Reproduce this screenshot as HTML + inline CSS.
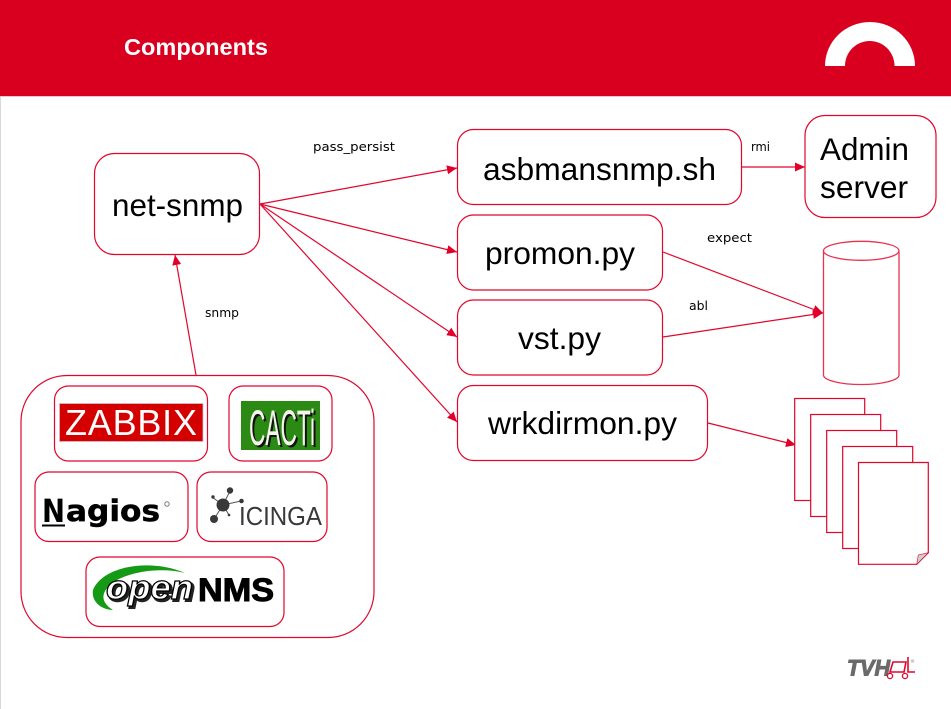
<!DOCTYPE html>
<html>
<head>
<meta charset="utf-8">
<style>
html,body{margin:0;padding:0;background:#fff;}
svg{display:block;}
text{font-family:"Liberation Sans",sans-serif;}
.lb{font-size:31.5px;fill:#000;}
.sm{font-family:"DejaVu Sans",sans-serif;font-size:12px;fill:#000;}
.b{fill:#fff;stroke:#e2062c;stroke-width:1.2;}
.c{stroke:#e2062c;stroke-width:1.2;fill:none;marker-end:url(#a);}
</style>
</head>
<body>
<svg width="951" height="709" viewBox="0 0 951 709" xmlns="http://www.w3.org/2000/svg">
<defs>
<marker id="a" markerUnits="userSpaceOnUse" markerWidth="12" markerHeight="10" refX="10" refY="4.5" orient="auto">
<path d="M0,0 L10,4.5 L0,9 Z" fill="#e2002a"/>
</marker>
</defs>
<rect width="951" height="709" fill="#fff"/>
<rect x="0" y="96" width="1" height="613" fill="#d8d8d8"/>
<rect width="951" height="96" fill="#d9001f"/>
<rect y="96" width="951" height="1" fill="#e8c8cc"/>
<text x="124" y="55" font-size="23px" font-weight="bold" fill="#fff" textLength="144" lengthAdjust="spacingAndGlyphs">Components</text>
<path d="M825,66 A45,44 0 0 1 915,66 L894.5,66 A24.7,25 0 0 0 845,66 Z" fill="#fff"/>

<!-- Connectors -->
<line class="c" x1="260" y1="204" x2="457" y2="168"/>
<line class="c" x1="260" y1="204" x2="457" y2="252"/>
<line class="c" x1="260" y1="204" x2="457" y2="337"/>
<line class="c" x1="260" y1="204" x2="457" y2="422"/>
<line class="c" x1="742" y1="167" x2="805" y2="167"/>
<line class="c" x1="663" y1="252" x2="823" y2="313"/>
<line class="c" x1="663" y1="337" x2="823" y2="313"/>
<line class="c" x1="708" y1="423" x2="796" y2="445"/>
<line class="c" x1="196" y1="375" x2="175" y2="255"/>

<!-- Main nodes -->
<rect class="b" x="94.5" y="153.5" width="165" height="101" rx="20"/>
<text class="lb" x="112" y="216" textLength="131" lengthAdjust="spacingAndGlyphs">net-snmp</text>
<rect class="b" x="457.5" y="129.5" width="284" height="75" rx="16"/>
<text class="lb" x="483" y="180" textLength="233" lengthAdjust="spacingAndGlyphs">asbmansnmp.sh</text>
<rect class="b" x="457.5" y="215" width="205" height="75" rx="16"/>
<text class="lb" x="485" y="264" textLength="150" lengthAdjust="spacingAndGlyphs">promon.py</text>
<rect class="b" x="457.5" y="300" width="205" height="75" rx="16"/>
<text class="lb" x="518" y="349" textLength="83" lengthAdjust="spacingAndGlyphs">vst.py</text>
<rect class="b" x="457.5" y="385.5" width="250" height="75" rx="16"/>
<text class="lb" x="488" y="434" textLength="189" lengthAdjust="spacingAndGlyphs">wrkdirmon.py</text>
<rect class="b" x="805" y="115.5" width="131" height="102" rx="20"/>
<text class="lb" x="820" y="160" textLength="89" lengthAdjust="spacingAndGlyphs">Admin</text>
<text class="lb" x="820" y="198" textLength="88" lengthAdjust="spacingAndGlyphs">server</text>

<!-- Labels -->
<text class="sm" x="313" y="151" textLength="82" lengthAdjust="spacingAndGlyphs">pass_persist</text>
<text class="sm" x="751" y="151" textLength="19" lengthAdjust="spacingAndGlyphs">rmi</text>
<text class="sm" x="707" y="242" textLength="45" lengthAdjust="spacingAndGlyphs">expect</text>
<text class="sm" x="689" y="310" textLength="19" lengthAdjust="spacingAndGlyphs">abl</text>
<text class="sm" x="205" y="317" textLength="34" lengthAdjust="spacingAndGlyphs">snmp</text>

<!-- Cylinder -->
<path d="M823.5,251 L823.5,375 A37.7,9.5 0 0 0 899,375 L899,251" fill="#fff" stroke="#e8324f" stroke-width="1.3"/>
<ellipse cx="861.2" cy="250.8" rx="37.7" ry="9.5" fill="#fff" stroke="#e8324f" stroke-width="1.3"/>

<!-- Documents -->
<rect class="b" x="794.7" y="398.5" width="70" height="102"/>
<rect class="b" x="810.7" y="414.5" width="70" height="102"/>
<rect class="b" x="826.7" y="430.5" width="70" height="102"/>
<rect class="b" x="842.7" y="446.5" width="70" height="102"/>
<path d="M858.5,462.5 H928.3 V552.7 L916.7,564.3 H858.5 Z" class="b"/>
<path d="M928.3,552.7 L916.7,564.3 L918.3,555 Z" fill="#cfcfd2" stroke="#e2062c" stroke-width="0.6"/>

<!-- Group -->
<rect class="b" x="21" y="375.5" width="353" height="262" rx="46"/>
<rect class="b" x="54.5" y="386" width="153" height="75" rx="14"/>
<rect class="b" x="229" y="386" width="103" height="75" rx="14"/>
<rect class="b" x="35" y="472" width="153" height="69.5" rx="14"/>
<rect class="b" x="197" y="472" width="130" height="69.5" rx="14"/>
<rect class="b" x="86" y="557" width="198" height="69.5" rx="14"/>

<!-- Zabbix -->
<rect x="59.5" y="403.5" width="143.5" height="38" fill="#d40000" stroke="#cdbfd0" stroke-width="0.8"/>
<text x="65" y="435" font-size="36px" fill="#fff" textLength="132" lengthAdjust="spacing">ZABBIX</text>

<!-- Cacti -->
<rect x="241" y="401" width="79" height="49" fill="#2a8a14"/>
<text x="251" y="447" font-size="50px" fill="#111" textLength="66" lengthAdjust="spacingAndGlyphs">CACTi</text>
<text x="249" y="445" font-size="50px" fill="#f4f4ea" textLength="66" lengthAdjust="spacingAndGlyphs">CACTi</text>

<!-- Nagios -->
<text x="42" y="522" font-size="32px" font-weight="bold" fill="#000" textLength="23" lengthAdjust="spacingAndGlyphs" style="font-family:'DejaVu Sans',sans-serif">N</text>
<rect x="42" y="524.5" width="23" height="2" fill="#000"/>
<text x="66" y="521" font-size="29px" font-weight="bold" fill="#000" stroke="#000" stroke-width="0.5" textLength="94" lengthAdjust="spacingAndGlyphs" style="font-family:'DejaVu Sans',sans-serif">agios</text>
<circle cx="167" cy="504" r="2.2" fill="none" stroke="#777" stroke-width="1"/>

<!-- Icinga -->
<g stroke="#555" stroke-width="1">
<line x1="223" y1="505" x2="230" y2="491"/>
<line x1="223" y1="505" x2="212" y2="497"/>
<line x1="223" y1="505" x2="241" y2="501"/>
<line x1="223" y1="505" x2="214" y2="519"/>
<line x1="223" y1="505" x2="229" y2="515"/>
</g>
<g fill="#3b383b">
<circle cx="223" cy="505" r="6.5"/>
<circle cx="230" cy="490.5" r="3.2"/>
<circle cx="213" cy="497" r="1.7"/>
<circle cx="241.5" cy="501" r="2.3"/>
<circle cx="214" cy="519" r="4"/>
<circle cx="229" cy="515" r="1.3"/>
</g>
<text x="239" y="525" font-size="26px" fill="#3b383b" textLength="83" lengthAdjust="spacingAndGlyphs">ICINGA</text>

<!-- openNMS -->
<path d="M185,573 C150,558 103,566 93,590 C91,602 102,610 113,610 C103,604 100,596 108,587 C120,573 158,566 185,573 Z" fill="#149a14"/>
<text x="108" y="601" font-size="34px" font-weight="bold" font-style="italic" fill="#222" stroke="#222" stroke-width="2" textLength="87" lengthAdjust="spacingAndGlyphs">open</text>
<text x="106" y="599" font-size="34px" font-weight="bold" font-style="italic" fill="#fff" stroke="#000" stroke-width="1.2" textLength="87" lengthAdjust="spacingAndGlyphs">open</text>
<text x="198" y="601" font-size="32px" font-weight="bold" fill="#000" stroke="#000" stroke-width="1" textLength="76" lengthAdjust="spacingAndGlyphs">NMS</text>

<!-- TVH -->
<text x="847" y="675.5" font-size="22px" font-weight="bold" font-style="italic" fill="#6a6a6a" stroke="#6a6a6a" stroke-width="1" textLength="43" lengthAdjust="spacingAndGlyphs">TVH</text>
<path d="M893,662 H906 L904,672 H890 Z M908,657 V672 H915" fill="none" stroke="#e2062c" stroke-width="1.6"/>
<circle cx="890" cy="676" r="2.6" fill="none" stroke="#e2062c" stroke-width="1.3"/>
<circle cx="905" cy="676" r="2.6" fill="none" stroke="#e2062c" stroke-width="1.3"/>
<circle cx="912.5" cy="661" r="1.8" fill="#ccc"/>
</svg>
</body>
</html>
